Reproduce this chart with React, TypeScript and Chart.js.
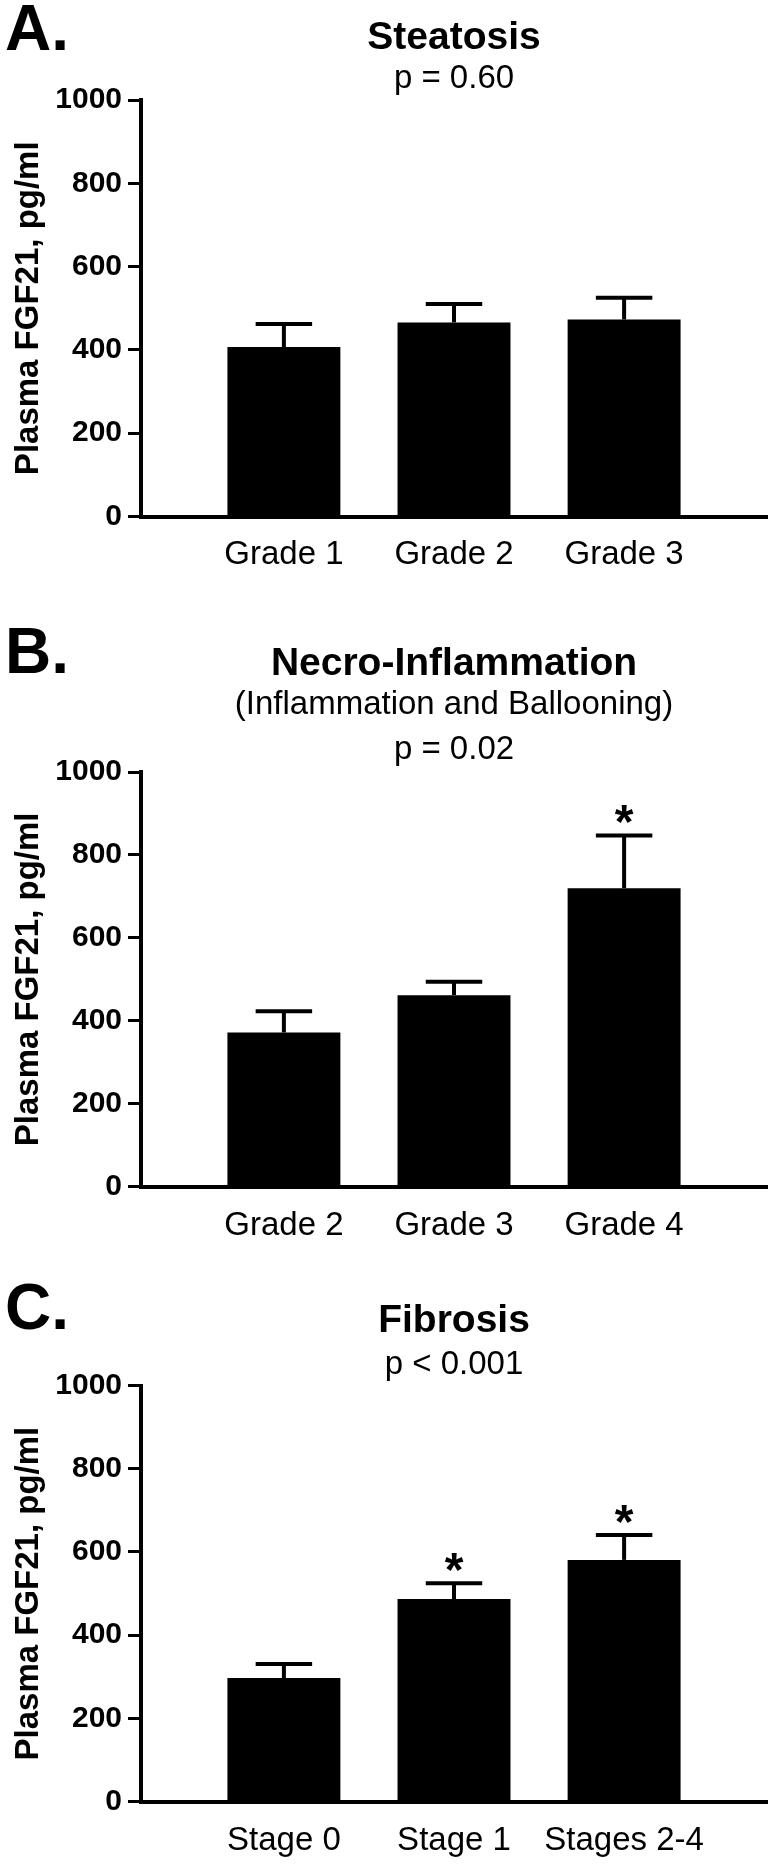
import React, { useEffect, useRef } from 'react';
import { Chart, registerables } from 'chart.js';

Chart.register(...registerables);

const FONT = '"Liberation Sans", Arial, Helvetica, sans-serif';

// ---- Data ----
const yTickValues = [0, 200, 400, 600, 800, 1000];
const yAxisTitle = 'Plasma FGF21, pg/ml';

const steatosisLabels = ['Grade 1', 'Grade 2', 'Grade 3'];
const steatosisMeans = [407, 466, 473];
const steatosisSEM = [55, 44, 52];
const steatosisSig = [false, false, false];

const necroLabels = ['Grade 2', 'Grade 3', 'Grade 4'];
const necroMeans = [372, 462, 720];
const necroSEM = [51, 32, 127];
const necroSig = [false, false, true];

const fibrosisLabels = ['Stage 0', 'Stage 1', 'Stages 2-4'];
const fibrosisMeans = [297, 487, 581];
const fibrosisSEM = [34, 38, 60];
const fibrosisSig = [false, true, true];

type PanelProps = {
  height: number;
  letter: string;
  letterBaseline: number;
  title: string;
  titlePadTop: number;
  subtitle: string[];
  subLineHeight: number;
  subPadTop: number;
  subPadBottom: number;
  padBottom: number;
  labels: string[];
  means: number[];
  sems: number[];
  sig: boolean[];
};

function Panel(p: PanelProps) {
  const ref = useRef<HTMLCanvasElement>(null);

  useEffect(() => {
    if (!ref.current) return;

    const errorBars = {
      id: 'errorBars',
      afterDatasetsDraw(chart: any) {
        const ctx = chart.ctx as CanvasRenderingContext2D;
        const meta = chart.getDatasetMeta(0);
        const yScale = chart.scales.y;
        ctx.save();
        ctx.strokeStyle = '#000';
        ctx.fillStyle = '#000';
        ctx.lineWidth = 4;
        ctx.lineCap = 'butt';
        meta.data.forEach((bar: any, i: number) => {
          const x = bar.x;
          const top = yScale.getPixelForValue(p.means[i]);
          const capY = yScale.getPixelForValue(p.means[i] + p.sems[i]);
          const half = bar.width / 4;
          ctx.beginPath();
          ctx.moveTo(x, top);
          ctx.lineTo(x, capY);
          ctx.stroke();
          ctx.beginPath();
          ctx.moveTo(x - half, capY);
          ctx.lineTo(x + half, capY);
          ctx.stroke();
          if (p.sig[i]) {
            ctx.font = `bold 48px ${FONT}`;
            ctx.textAlign = 'center';
            ctx.textBaseline = 'alphabetic';
            const m = ctx.measureText('*');
            const center = capY - 21;
            const base = center + (m.actualBoundingBoxAscent - m.actualBoundingBoxDescent) / 2;
            ctx.fillText('*', x, base);
          }
        });
        ctx.restore();
      },
    };

    const panelLetter = {
      id: 'panelLetter',
      afterDraw(chart: any) {
        const ctx = chart.ctx as CanvasRenderingContext2D;
        ctx.save();
        ctx.fillStyle = '#000';
        ctx.font = `bold 64px ${FONT}`;
        ctx.textAlign = 'left';
        ctx.textBaseline = 'alphabetic';
        ctx.fillText(p.letter, 5, p.letterBaseline);
        ctx.restore();
      },
    };

    const chart = new Chart(ref.current, {
      type: 'bar',
      data: {
        datasets: [
          {
            data: p.means.map((v, i) => ({ x: i, y: v })),
            backgroundColor: '#000',
            borderWidth: 0,
            barPercentage: 0.664,
            categoryPercentage: 1,
          },
        ],
      },
      options: {
        animation: false,
        responsive: false,
        events: [],
        layout: { padding: { top: 0, left: 0, right: 6, bottom: p.padBottom } },
        plugins: {
          legend: { display: false },
          tooltip: { enabled: false },
          title: {
            display: true,
            fullSize: false,
            text: p.title,
            color: '#000',
            font: { family: FONT, size: 39, weight: 'bold', lineHeight: 0.9 },
            padding: { top: p.titlePadTop, bottom: 0 },
          },
          subtitle: {
            display: true,
            fullSize: false,
            text: p.subtitle,
            color: '#000',
            font: { family: FONT, size: 33, weight: 'normal', lineHeight: p.subLineHeight },
            padding: { top: p.subPadTop, bottom: p.subPadBottom },
          },
        },
        scales: {
          x: {
            type: 'linear',
            min: -0.84,
            max: 2.84,
            offset: false,
            grid: { display: false, drawTicks: false, offset: false },
            border: { display: true, color: '#000', width: 4 },
            afterBuildTicks: (s: any) => {
              s.ticks = p.labels.map((_, i) => ({ value: i }));
            },
            afterFit: (s: any) => {
              s.height = 60;
            },
            ticks: {
              padding: 19,
              color: '#000',
              autoSkip: false,
              maxRotation: 0,
              font: { family: FONT, size: 33, weight: 'normal' },
              callback: (v: any) => p.labels[Math.round(Number(v))] ?? '',
            },
          },
          y: {
            type: 'linear',
            min: yTickValues[0],
            max: yTickValues[yTickValues.length - 1],
            afterBuildTicks: (s: any) => {
              s.ticks = yTickValues.map((v) => ({ value: v }));
            },
            afterFit: (s: any) => {
              s.width = 141;
            },
            ticks: {
              padding: 6,
              color: '#000',
              font: { family: FONT, size: 30, weight: 'bold' },
              callback: (v: any) => String(v),
            },
            grid: {
              drawOnChartArea: false,
              drawTicks: true,
              tickLength: 13,
              tickWidth: 3,
              lineWidth: 3,
              color: '#000',
            },
            border: { display: true, color: '#000', width: 4 },
            title: {
              display: true,
              text: yAxisTitle,
              color: '#000',
              font: { family: FONT, size: 33, weight: 'bold', lineHeight: 1.2 },
              padding: { top: 9, bottom: 0 },
            },
          },
        },
      } as any,
      plugins: [errorBars, panelLetter],
    });

    return () => chart.destroy();
  }, []);

  return (
    <div style={{ width: 773, height: p.height }}>
      <canvas ref={ref} width={773} height={p.height} style={{ display: 'block' }} />
    </div>
  );
}

export default function App() {
  return (
    <div style={{ width: 773, background: '#fff' }}>
      <style>{'body{margin:0;background:#fff}'}</style>
      <Panel
        height={600}
        letter="A."
        letterBaseline={50}
        title="Steatosis"
        titlePadTop={20.45}
        subtitle={['p = 0.60']}
        subLineHeight={1.2}
        subPadTop={3.95}
        subPadBottom={0.9}
        padBottom={23.5}
        labels={steatosisLabels}
        means={steatosisMeans}
        sems={steatosisSEM}
        sig={steatosisSig}
      />
      <Panel
        height={650}
        letter="B."
        letterBaseline={73}
        title="Necro-Inflammation"
        titlePadTop={46.95}
        subtitle={['(Inflammation and Ballooning)', 'p = 0.02']}
        subLineHeight={1.3636}
        subPadTop={0}
        subPadBottom={0}
        padBottom={3.3}
        labels={necroLabels}
        means={necroMeans}
        sems={necroSEM}
        sig={necroSig}
      />
      <Panel
        height={615}
        letter="C."
        letterBaseline={79}
        title="Fibrosis"
        titlePadTop={53.95}
        subtitle={['p < 0.001']}
        subLineHeight={1.2}
        subPadTop={5.75}
        subPadBottom={1.1}
        padBottom={3.3}
        labels={fibrosisLabels}
        means={fibrosisMeans}
        sems={fibrosisSEM}
        sig={fibrosisSig}
      />
    </div>
  );
}
